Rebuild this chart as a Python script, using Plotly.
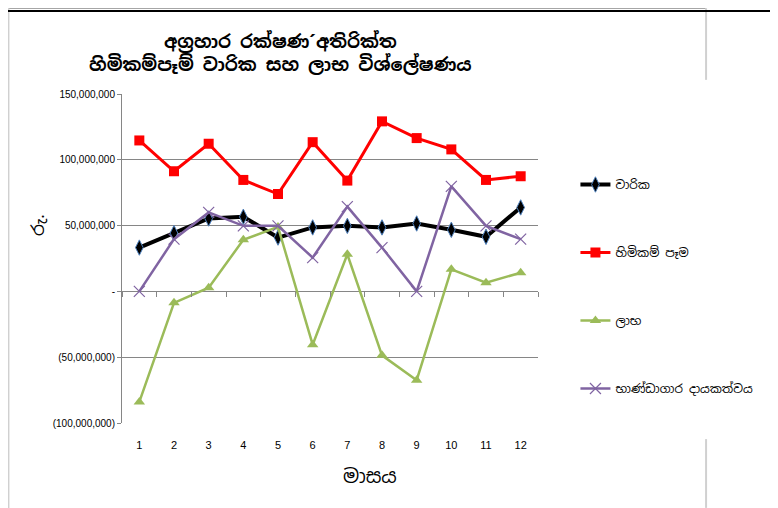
import plotly.graph_objects as go

months = list(range(1, 12 + 1))

premium = [33.3, 44.3, 55.4, 56.7, 40.9, 48.6, 49.8, 48.6, 51.6, 46.8, 41.5, 63.8]
claims = [114.7, 91.3, 112.2, 84.7, 74.0, 113.4, 84.2, 129.2, 116.5, 107.9, 84.7, 87.5]
profit = [-84.0, -8.7, 2.8, 39.2, 49.0, -40.5, 28.2, -48.6, -67.5, 16.8, 6.6, 14.2]
treasury = [0.0, 39.7, 60.0, 49.8, 49.8, 25.7, 64.4, 33.3, 0.0, 79.8, 49.8, 39.7]

names = ["වාරික", "හිමිකම් පෑම", "ලාභ", "භාණ්ඩාගාර දායකත්වය"]
ytick_vals = [-100, -50, 0, 50, 100, 150]
ytick_text = ["(100,000,000)", "(50,000,000)", "-", "50,000,000", "100,000,000", "150,000,000"]

M = 1_000_000
SIN = "Noto Sans Sinhala, Noto Sans, DejaVu Sans, sans-serif"
NARROW = "Liberation Sans Narrow, Arial Narrow, Liberation Sans, sans-serif"
GRID = "#868686"

fig = go.Figure()

fig.add_trace(go.Scatter(
    x=months, y=[v * M for v in premium], name=names[0], mode="lines+markers",
    line=dict(color="#000000", width=4),
    marker=dict(symbol="diamond-tall", size=11, color="#000000", line=dict(color="#4F81BD", width=1)),
    legendgroup="a"))
fig.add_trace(go.Scatter(
    x=months, y=[v * M for v in claims], name=names[1], mode="lines+markers",
    line=dict(color="#FF0000", width=3),
    marker=dict(symbol="square", size=10, color="#FF0000"),
    legendgroup="b"))
fig.add_trace(go.Scatter(
    x=months, y=[v * M for v in profit], name=names[2], mode="lines+markers",
    line=dict(color="#9BBB59", width=2.5),
    marker=dict(symbol="triangle-up", size=10, color="#9BBB59"),
    legendgroup="c"))
fig.add_trace(go.Scatter(
    x=months, y=[v * M for v in treasury], name=names[3], mode="lines+markers",
    line=dict(color="#8064A2", width=2.5),
    marker=dict(symbol="x-thin-open", size=11, color="#8064A2", line=dict(color="#8064A2", width=1.2)),
    legendgroup="d"))

# invisible trace so the secondary axis (tick marks on the zero line) is drawn
fig.add_trace(go.Scatter(x=[months[0]], y=[0], xaxis="x2", mode="markers",
                         marker=dict(opacity=0), showlegend=False, hoverinfo="skip"))

fig.update_layout(
    width=778, height=508,
    paper_bgcolor="white", plot_bgcolor="white",
    margin=dict(l=114, r=248, t=86, b=93),
    xaxis=dict(
        range=[0.5, 12.5], tickvals=months, ticks="", showgrid=False,
        showline=False, zeroline=False, ticklabelstandoff=14,
        tickfont=dict(family=NARROW, size=11, color="#000000"),
    ),
    xaxis2=dict(
        overlaying="x", matches="x", anchor="free", position=0.4,
        tickvals=[m - 0.5 for m in months] + [12.5], ticks="outside", ticklen=5,
        tickcolor=GRID, showticklabels=False, showgrid=False, showline=False, zeroline=False,
    ),
    yaxis=dict(
        range=[-100 * M, 150 * M], tickvals=[v * M for v in ytick_vals], ticktext=ytick_text,
        showgrid=True, gridcolor=GRID, gridwidth=1,
        zeroline=True, zerolinecolor=GRID, zerolinewidth=1,
        showline=True, linecolor=GRID, linewidth=1,
        ticks="outside", ticklen=4, tickcolor=GRID,
        tickfont=dict(family=NARROW, size=10, color="#000000"),
    ),
    legend=dict(
        x=1.09, xanchor="left", y=0.769, yanchor="top",
        font=dict(family=SIN, size=12, color="#000000"),
        tracegroupgap=49, itemwidth=30, bgcolor="rgba(0,0,0,0)",
    ),
    annotations=[
        dict(text="<b>අග්‍රහාර රක්ෂණ´අතිරික්ත<br>හිමිකම්පෑම් වාරික සහ ලාභ විශ්ලේෂණය</b>",
             xref="paper", yref="paper", x=0.38, y=1.0, yshift=42, xanchor="center", yanchor="middle",
             showarrow=False, font=dict(family=SIN, size=18, color="#000000")),
        dict(text="රු.", textangle=-90, xref="paper", yref="paper", x=-0.202, y=0.602,
             xanchor="center", yanchor="middle", showarrow=False,
             font=dict(family=SIN, size=17, color="#000000")),
        dict(text="මාසය", xref="paper", yref="paper", x=0.596, y=-0.164,
             xanchor="center", yanchor="middle", showarrow=False,
             font=dict(family=SIN, size=19, color="#000000")),
    ],
    shapes=[
        # chart area frame
        dict(type="line", xref="paper", yref="paper", x0=-0.273, x1=1.404, y0=1.261, y1=1.261,
             line=dict(color="#A6A6A6", width=1.5)),
        dict(type="line", xref="paper", yref="paper", x0=-0.273, x1=-0.273, y0=1.261, y1=-0.258,
             line=dict(color="#D0D0D0", width=2)),
        dict(type="line", xref="paper", yref="paper", x0=1.404, x1=1.404, y0=1.261, y1=1.043,
             line=dict(color="#D0D0D0", width=2)),
        dict(type="line", xref="paper", yref="paper", x0=1.404, x1=1.404, y0=-0.049, y1=-0.258,
             line=dict(color="#D0D0D0", width=2)),
        # black rule across the top
        dict(type="line", xref="paper", yref="paper", x0=-0.3, x1=1.7, y0=1.252, y1=1.252,
             line=dict(color="#000000", width=2)),
    ],
    showlegend=True,
)

fig.write_html("out.html")
